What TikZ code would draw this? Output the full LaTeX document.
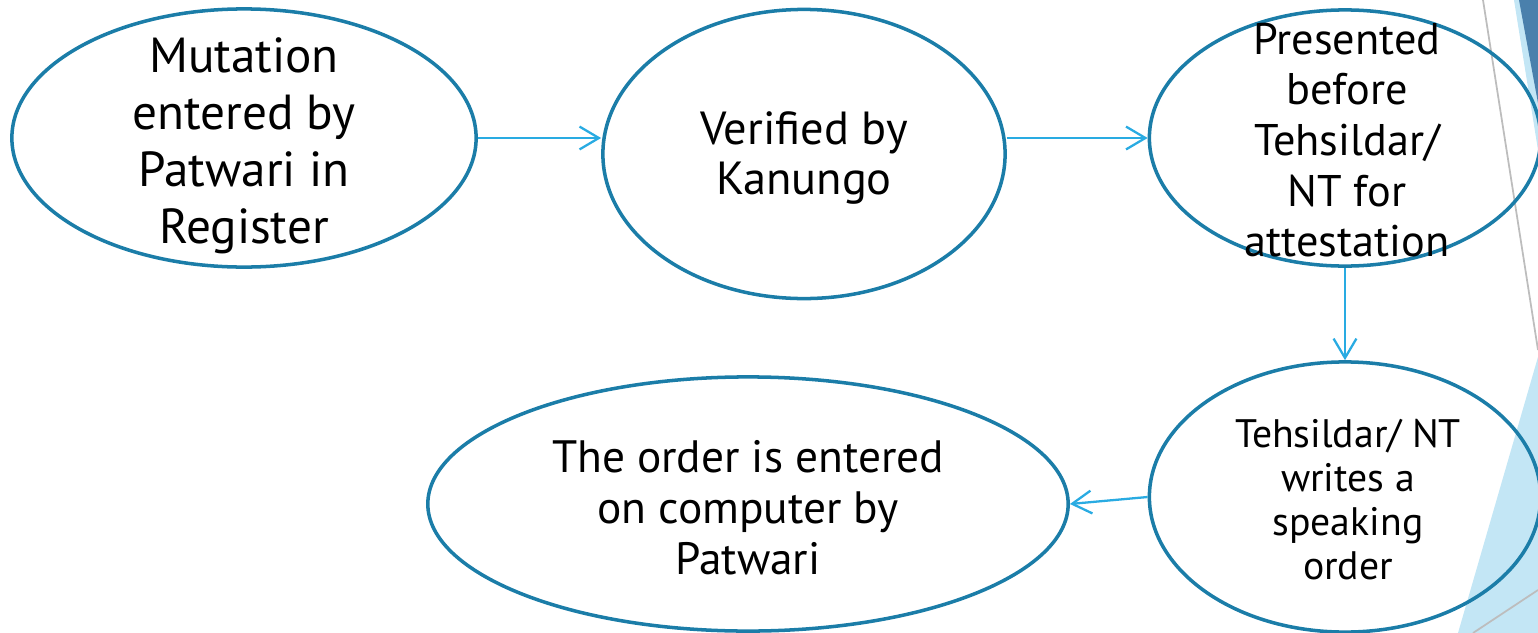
\documentclass[tikz,border=0pt]{standalone}
\usepackage{fontspec}
\setmainfont{PT Sans}
\usetikzlibrary{shapes.geometric,arrows.meta}
\definecolor{ovalc}{HTML}{1B7DA8}
\definecolor{arrowc}{HTML}{29ABE2}
\definecolor{darkdeco}{HTML}{4A80AC}
\definecolor{lightdeco}{HTML}{C3E6F5}
\definecolor{linedeco}{HTML}{BDBDBD}
\begin{document}
\begin{tikzpicture}[x=0.01cm,y=-0.01cm,
  oval/.style={draw=ovalc, line width=1pt, ellipse, inner sep=0pt},
  lbl/.style={align=center, text=black, inner sep=0pt},
  flow/.style={draw=arrowc, line width=0.65pt, -{Straight Barb[length=5.5pt,width=6.5pt]}}]
\useasboundingbox (0,0) rectangle (1538,633);
\clip (0,0) rectangle (1538,633);
% background decorations
\fill[lightdeco] (1514,0) -- (1538,0) -- (1538,150) -- cycle;
\fill[darkdeco] (1519,0) -- (1538,0) -- (1538,103) -- cycle;
\fill[lightdeco] (1538,357) -- (1458,633) -- (1538,633) -- cycle;
\draw[linedeco, line width=0.5pt] (1483,0) -- (1538,350);
\draw[linedeco, line width=0.5pt] (1473,633) -- (1538,590);
% ellipses
\node[oval, minimum width=4.64cm, minimum height=2.58cm] (e1) at (244,138) {};
\node[oval, minimum width=4.02cm, minimum height=2.89cm] (e2) at (804,154) {};
\node[oval, minimum width=3.91cm, minimum height=2.56cm] (e3) at (1345,138) {};
\node[oval, minimum width=3.91cm, minimum height=2.70cm] (e4) at (1345,497) {};
\node[oval, minimum width=6.40cm, minimum height=2.54cm] (e5) at (748,504) {};
% texts
\node[lbl, font=\fontsize{14pt}{16.2pt}\selectfont] (t1) at (244,146) {Mutation\\entered by\\Patwari in\\Register};
\node[lbl, font=\fontsize{13.2pt}{14.3pt}\selectfont] (t2) at (804,158) {Verified by\\Kanungo};
\node[lbl, font=\fontsize{12.6pt}{14.4pt}\selectfont] (t3) at (1347,140) {Presented\\before\\Tehsildar/\\NT for\\attestation};
\node[lbl, font=\fontsize{11.3pt}{12.5pt}\selectfont] (t4) at (1348,500) {Tehsildar/ NT\\writes a\\speaking\\order};
\node[lbl, font=\fontsize{12.9pt}{14.5pt}\selectfont] (t5) at (748,508) {The order is entered\\on computer by\\Patwari};
% connectors
\draw[flow] (e1.east) -- (e1.east -| e2.west);
\draw[flow] (e3.west -| e2.east) -- (e3.west);
\draw[flow] (e3.south) -- (e4.north);
\draw[flow] (e4.west) -- (e5.east);
\end{tikzpicture}
\end{document}
